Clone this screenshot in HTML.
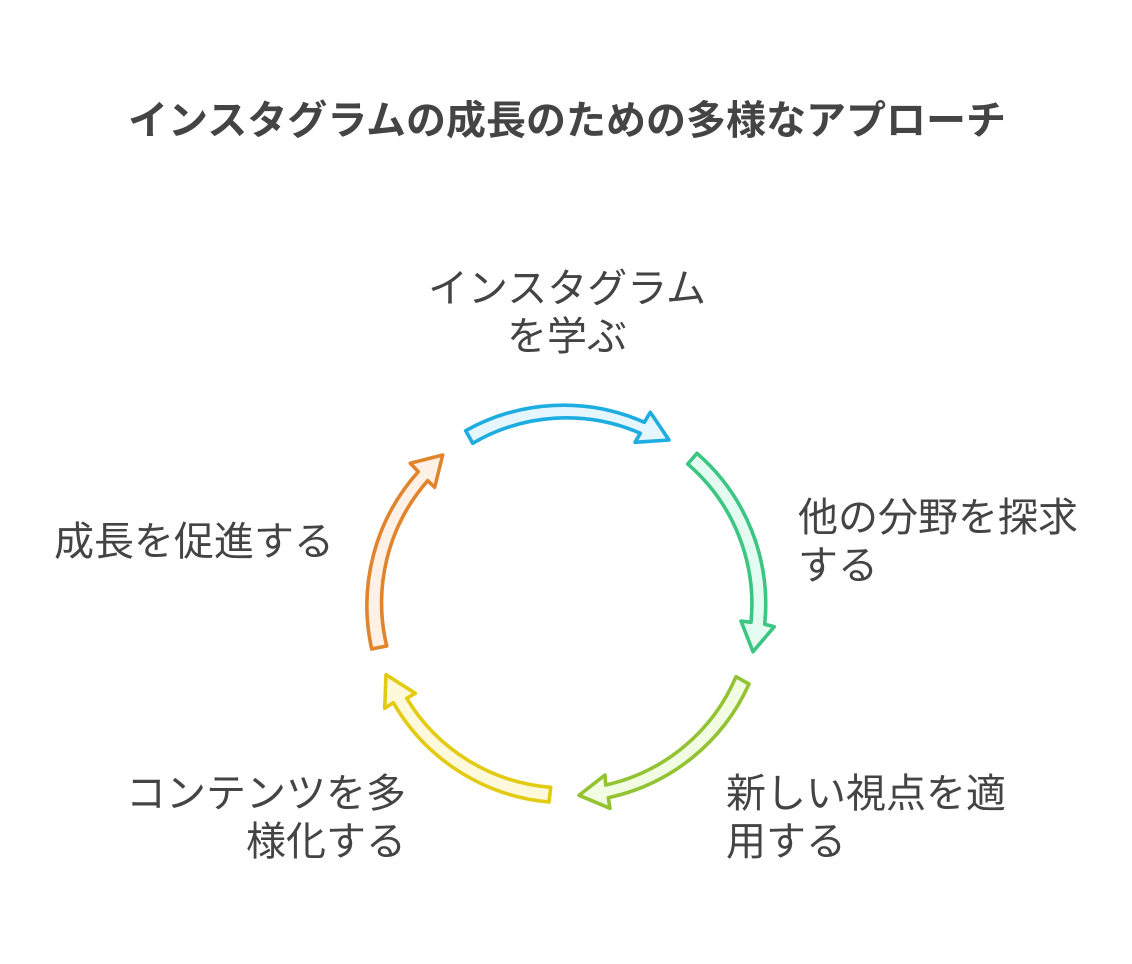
<!DOCTYPE html>
<html lang="ja">
<head>
<meta charset="utf-8">
<style>
html,body{margin:0;padding:0;background:#fff}
#c{position:relative;width:1132px;height:964px;overflow:hidden;background:#fff;font-family:"Liberation Sans","Noto Sans CJK JP",sans-serif;color:#444}
.t{position:absolute;font-size:40px;line-height:48px;white-space:nowrap}
svg{position:absolute;left:0;top:0}
</style>
</head>
<body>
<div id="c">
<div class="t" style="left:127px;top:97px;font-weight:700;width:880px;text-align:center">インスタグラムの成長のための多様なアプローチ</div>
<div class="t" style="left:427px;top:265px;width:280px;text-align:center">インスタグラム<br>を学ぶ</div>
<div class="t" style="left:798px;top:494px">他の分野を探求<br>する</div>
<div class="t" style="left:726px;top:770px">新しい視点を適<br>用する</div>
<div class="t" style="left:126px;top:770px;width:280px;text-align:right">コンテンツを多<br>様化する</div>
<div class="t" style="left:54px;top:518px">成長を促進する</div>
<svg width="1132" height="964" viewBox="0 0 1132 964" stroke-width="3.6" stroke-linejoin="round">
<path d="M465.7 430.7A200 200 0 0 1 644.3 422.3L650.3 412.3L669 440L635 442.3L640.3 433.3A185 185 0 0 0 472.7 443.3Z" fill="#E5F6FF" stroke="#1DADE0"/>
<path d="M697 453.3A200 200 0 0 1 764.7 624.3L774.3 626.7L753 651.7L741 621L751 622.3A185 185 0 0 0 687.7 464Z" fill="#E3FBF0" stroke="#3CC583"/>
<path d="M749 684A200 200 0 0 1 608.3 797.7L610 808.3L579 795.3L605 775L605.7 785A185 185 0 0 0 736 676.7Z" fill="#F2FCE2" stroke="#93C332"/>
<path d="M550.7 787.3A185 185 0 0 1 406.7 698.3L415.3 693.3L386 674.7L384.7 708.3L393.3 702.7A200 200 0 0 0 549 802Z" fill="#FEF9DB" stroke="#E2CB12"/>
<path d="M386.7 646A185 185 0 0 1 427.7 480.7L434.7 487.3L442.7 455L410.3 463.3L418.3 471.7A200 200 0 0 0 371.7 649Z" fill="#FFF1E5" stroke="#E0842E"/>
</svg>
</div>
</body>
</html>
